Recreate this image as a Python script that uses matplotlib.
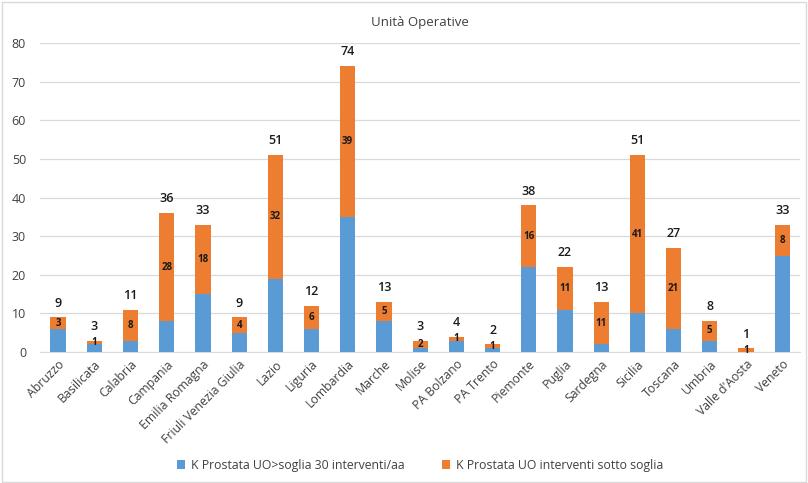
import numpy as np
import matplotlib.pyplot as plt
from matplotlib.patches import Rectangle

regioni = ['Abruzzo', 'Basilicata', 'Calabria', 'Campania', 'Emilia Romagna',
           'Friuli Venezia Giulia', 'Lazio', 'Liguria', 'Lombardia', 'Marche',
           'Molise', 'PA Bolzano', 'PA Trento', 'Piemonte', 'Puglia',
           'Sardegna', 'Sicilia', 'Toscana', 'Umbria', "Valle d'Aosta", 'Veneto']
sopra_soglia = [6, 2, 3, 8, 15, 5, 19, 6, 35, 8, 1, 3, 1, 22, 11, 2, 10, 6, 3, 0, 25]
sotto_soglia = [3, 1, 8, 28, 18, 4, 32, 6, 39, 5, 2, 1, 1, 16, 11, 11, 41, 21, 5, 1, 8]

plt.rcParams['font.family'] = ['Open Sans', 'DejaVu Sans']

blu = '#5B9BD5'
arancio = '#ED7D31'

fig = plt.figure(figsize=(8.08, 4.83), dpi=100)
ax = fig.add_axes([0.0495, 0.271, 0.941, 0.640])

x = np.arange(len(regioni))
blue = np.array(sopra_soglia)
orange = np.array(sotto_soglia)
tot = blue + orange

ax.bar(x, blue, width=0.42, color=blu, label='K Prostata UO>soglia 30 interventi/aa', zorder=3)
ax.bar(x, orange, width=0.42, bottom=blue, color=arancio,
       label='K Prostata UO interventi sotto soglia', zorder=3)

for xi, b, o, t in zip(x, blue, orange, tot):
    ax.text(xi, b + o / 2, str(o), ha='center', va='center', fontsize=7,
            fontweight='bold', color='#1a1a1a', zorder=4)
    ax.text(xi, t + 2.0, str(t), ha='center', va='bottom', fontsize=9,
            fontweight='semibold', color='#1a1a1a', zorder=4)

ax.set_xlim(-0.5, len(regioni) - 0.5)
ax.set_ylim(0, 80)
ax.set_yticks(range(0, 81, 10))
ax.yaxis.grid(True, color='#d9d9d9', lw=0.9, zorder=0)
ax.tick_params(axis='y', length=0, labelsize=9, colors='#404040', pad=10)
ax.set_xticks(x)
ax.set_xticklabels(regioni, rotation=45, ha='right', rotation_mode='anchor',
                   fontsize=8.8, color='#404040')
ax.tick_params(axis='x', length=0, pad=4)
for s in ['top', 'right', 'left']:
    ax.spines[s].set_visible(False)
ax.spines['bottom'].set_color('#d9d9d9')

ax.set_title('Unità Operative', fontsize=9.5, color='#404040', pad=12)

fig.legend(loc='lower center', bbox_to_anchor=(0.52, 0.0), ncol=2, frameon=False,
           fontsize=8.8, handlelength=0.7, handleheight=0.7, columnspacing=3.0,
           handletextpad=0.5, labelcolor='#404040')

fig.patches.append(Rectangle((0.002, 0.002), 0.996, 0.994, transform=fig.transFigure,
                             fill=False, edgecolor='#d9d9d9', lw=1))

fig.savefig('out.png', dpi=100)
